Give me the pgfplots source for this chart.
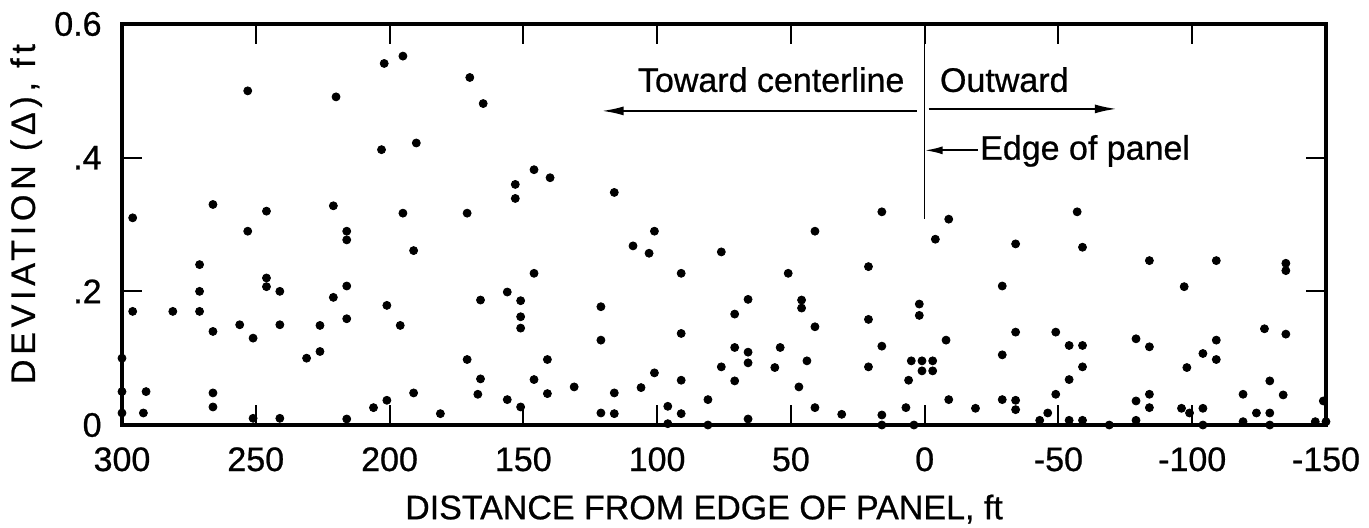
\documentclass[border=0pt]{standalone}
\usepackage{fontspec}
\setmainfont{Liberation Sans}[FakeBold=0.7]
\newfontfamily\ylabfont{Liberation Sans}[FakeBold=0.7,LetterSpace=14]
\usepackage{pgfplots}
\pgfplotsset{compat=1.18}
\usetikzlibrary{arrows.meta}
\begin{document}
\begin{tikzpicture}[font=\fontsize{17pt}{20pt}\selectfont]
\begin{axis}[
 at={(0,0)}, anchor=south west,
 scale only axis, width=602pt, height=200.5pt,
 xmin=-150, xmax=300, x dir=reverse,
 ymin=0, ymax=0.6,
 xtick={300,250,200,150,100,50,0,-50,-100,-150},
 xticklabels={300,250,200,150,100,50,0,-50,-100,-150},
 ytick={0,0.2,0.4,0.6},
 yticklabels={0,.2,.4,0.6},
 tick align=inside,
 major tick length=10pt,
 axis line style={line width=1.6pt},
 every tick/.style={black, line width=1pt},
 xticklabel style={inner sep=0pt, anchor=base, yshift=-23pt},
 yticklabel style={inner sep=0pt, anchor=east, xshift=-10pt},
 xlabel={DISTANCE FROM EDGE OF PANEL, ft},
 xlabel style={at={(axis description cs:0.4834,-0.235)}, anchor=base, inner sep=0pt},
 ylabel={\ylabfont\fontsize{17pt}{20pt}\selectfont DEVIATION (Δ), ft},
 ylabel style={at={(axis description cs:-0.0723,0.526)}, anchor=base, inner sep=0pt},
 clip=false,
]
\addplot[only marks, mark=*, mark size=2pt, black] coordinates {
(253,0.50) (296,0.31) (266,0.33) (246,0.32) (253,0.29) (271,0.24) (271,0.20)
(246,0.22) (246,0.207) (241,0.20) (296,0.17) (281,0.17) (271,0.17) (266,0.14)
(256,0.15) (241,0.15) (251,0.13) (231,0.10) (300,0.10) (300,0.05) (300,0.018)
(291,0.05) (292,0.018) (266,0.048) (266,0.027) (251,0.01) (241,0.01)
(195,0.552) (202,0.541) (170,0.520) (220,0.491) (165,0.481) (190,0.422) (203,0.412)
(221,0.328) (195,0.317) (171,0.317) (216,0.290) (216,0.277) (191,0.261) (216,0.208)
(221,0.191) (201,0.179) (156,0.199) (166,0.187) (216,0.159) (226,0.149) (196,0.149)
(226,0.110) (171,0.098) (166,0.069) (167,0.046) (156,0.038) (191,0.048) (201,0.037)
(206,0.026) (216,0.009) (181,0.017)
(146,0.382) (140,0.370) (153,0.360) (153,0.339) (116,0.348) (101,0.290) (109,0.268)
(103,0.257) (146,0.227) (91,0.227) (151,0.186) (151,0.162) (151,0.145) (121,0.177)
(121,0.127) (91,0.137) (141,0.098) (146,0.068) (141,0.047) (131,0.057) (151,0.027)
(116,0.048) (121,0.018) (116,0.017) (101,0.078) (106,0.056) (91,0.067) (96,0.028)
(96,0.002) (91,0.017) (81,0.038) (81,0.0)
(16,0.319) (41,0.290) (76,0.259) (51,0.227) (21,0.237) (66,0.188) (46,0.187)
(46,0.175) (71,0.166) (41,0.147) (21,0.158) (71,0.116) (66,0.109) (66,0.093)
(54,0.116) (76,0.087) (56,0.086) (44,0.096) (21,0.087) (16,0.118) (71,0.066)
(47,0.057) (66,0.009) (41,0.026) (31,0.016) (16,0.015) (16,0.0)
(-9,0.308) (-4,0.278) (-57,0.319) (-59,0.266) (-34,0.271) (-29,0.208) (2,0.181)
(2,0.164) (-8,0.127) (-34,0.139) (-49,0.139) (-54,0.119) (-59,0.119) (-59,0.087)
(-54,0.068) (-29,0.105) (5,0.096) (1,0.096) (-3,0.096) (1,0.081) (-3,0.081)
(6,0.067) (7,0.026) (4,0.0) (-9,0.038) (-19,0.025) (-29,0.038) (-34,0.037)
(-34,0.023) (-49,0.046) (-46,0.018) (-43,0.007) (-54,0.007) (-59,0.007) (-69,0.0)
(-84,0.246) (-109,0.246) (-135,0.242) (-135,0.231) (-97,0.207) (-79,0.129) (-84,0.117)
(-109,0.127) (-104,0.107) (-109,0.098) (-98,0.086) (-127,0.144) (-135,0.136) (-129,0.066)
(-134,0.045) (-119,0.046) (-79,0.036) (-84,0.046) (-84,0.026) (-96,0.025) (-99,0.018)
(-104,0.025) (-79,0.007) (-104,0.0) (-119,0.005) (-124,0.018) (-129,0.018) (-129,0.0)
(-149,0.036) (-146,0.005) (-150,0.005)
};
\draw[line width=0.8pt] (axis cs:0,0.6) -- (axis cs:0,0.308);
\node[anchor=base west, inner sep=0pt] at (axis cs:107.3,0.4985) {Toward\ centerline};
\node[anchor=base west, inner sep=0pt] at (axis cs:-5.6,0.4985) {Outward};
\node[anchor=base west, inner sep=0pt] at (axis cs:-20.6,0.397) {Edge of panel};
\draw[line width=1pt, -{Latex[length=11pt,width=4.5pt]}] (axis cs:3,0.470) -- (axis cs:120.7,0.470);
\draw[line width=1pt, -{Latex[length=11pt,width=4.5pt]}] (axis cs:-1.5,0.473) -- (axis cs:-71.8,0.473);
\draw[line width=1pt, -{Latex[length=9pt,width=4pt]}] (axis cs:-19.8,0.411) -- (axis cs:0,0.411);
\end{axis}
\pgfresetboundingbox
\path (-61pt,-51pt) rectangle (623.5pt,212.5pt);
\end{tikzpicture}
\end{document}
